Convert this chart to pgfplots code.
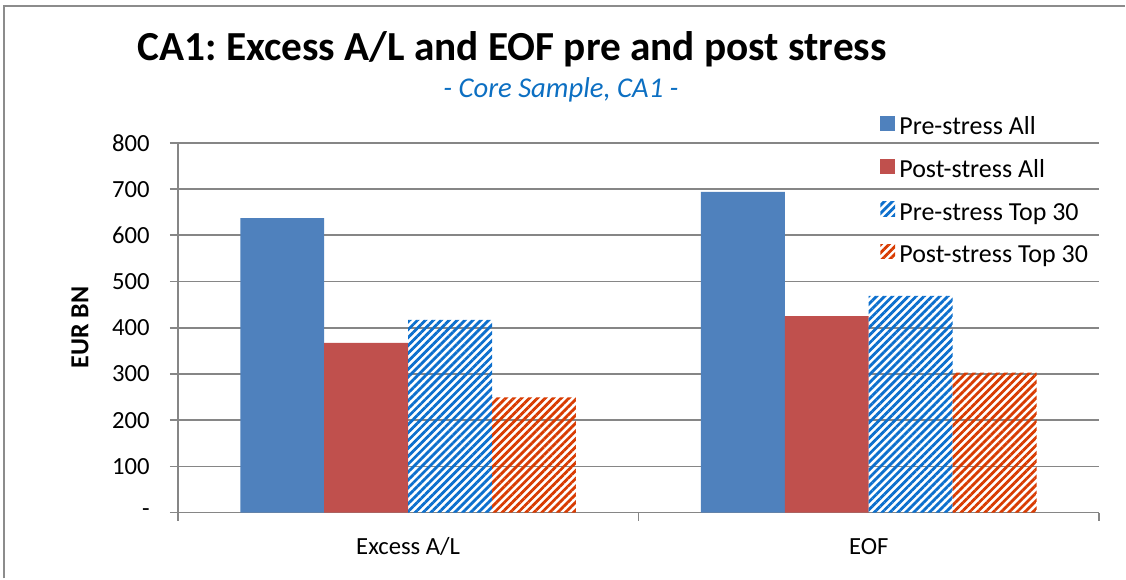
\documentclass[border=0pt]{standalone}
\usepackage{fontspec}
\setmainfont{Carlito}
\usepackage{pgfplots}
\pgfplotsset{compat=1.18}
\usetikzlibrary{patterns.meta}
\definecolor{cblue}{RGB}{79,129,189}
\definecolor{cred}{RGB}{192,80,77}
\definecolor{hblue}{RGB}{12,111,205}
\definecolor{hred}{RGB}{216,59,1}
\definecolor{gridc}{RGB}{134,134,134}
\definecolor{subc}{RGB}{12,111,194}
\definecolor{framec}{RGB}{140,140,140}
\frenchspacing
\begin{document}
\begin{tikzpicture}
\path (0,0) rectangle (844.5pt,-434.25pt);
\draw[framec, line width=1.5pt] (3pt,-434.25pt) -- (3pt,-4.5pt) -- (844.5pt,-4.5pt);
\node[font=\fontsize{31}{35}\selectfont\bfseries] at (384.4pt,-37pt) {CA1: Excess A/L and EOF pre and post stress};
\node[font=\fontsize{21.5}{25}\selectfont\itshape, text=subc] at (421.1pt,-67.5pt) {- Core Sample, CA1 -};
\begin{axis}[
  at={(133.5pt,-384.75pt)}, anchor=south west,
  scale only axis, width=691.5pt, height=277.5pt,
  xmin=-0.5, xmax=1.5, ymin=0, ymax=800,
  axis x line*=bottom, axis y line*=left,
  axis line style={gridc, line width=1.2pt, -},
  ytick={0,100,...,800},
  yticklabels={-,100,200,300,400,500,600,700,800},
  xtick={-0.5,0.5,1.5}, xticklabels={},
  extra x ticks={0,1}, extra x tick labels={Excess A/L,EOF},
  extra x tick style={major tick length=0pt, grid=none,
     tick label style={anchor=base, yshift=-31.5pt, font=\fontsize{18.5}{21}\selectfont}},
  tick align=outside, major tick length=6pt,
  tick style={gridc, line width=1.2pt},
  ymajorgrids, grid style={gridc, line width=1.2pt},
  ticklabel style={font=\fontsize{18.5}{21}\selectfont},
  yticklabel style={anchor=east, inner sep=0pt, xshift=-15pt},
  ylabel={EUR BN},
  ylabel style={font=\fontsize{19.5}{22}\selectfont\bfseries, at={(axis description cs:-0.1063,0.5)}, anchor=center},
  ybar, bar width=0.1822,
  legend style={at={(axis description cs:0.758,1.08)}, anchor=north west, draw=none, fill=none,
     font=\fontsize{19.5}{22}\selectfont, row sep=14pt,
     nodes={inner sep=0pt, text height=12pt, text depth=4pt}},
  legend cell align=left,
  legend image code/.code={\path[#1, draw=none] (0pt,-1pt) rectangle (11pt,10pt);},
  clip=false,
]
\addplot[fill=cblue, draw=none, bar shift=-0.2733] coordinates {(0,637) (1,694)};
\addlegendentry{\,Pre-stress All}
\addplot[fill=cred, draw=none, bar shift=-0.0911] coordinates {(0,367) (1,425)};
\addlegendentry{\,Post-stress All}
\addplot[draw=none, pattern={Lines[angle=45,distance=4.2pt,line width=2.1pt]}, pattern color=hblue, bar shift=0.0911] coordinates {(0,417) (1,469)};
\addlegendentry{\,Pre-stress Top 30}
\addplot[draw=none, pattern={Lines[angle=45,distance=4.2pt,line width=2.1pt]}, pattern color=hred, bar shift=0.2733] coordinates {(0,249) (1,303)};
\addlegendentry{\,Post-stress Top 30}
\end{axis}
\end{tikzpicture}
\end{document}
